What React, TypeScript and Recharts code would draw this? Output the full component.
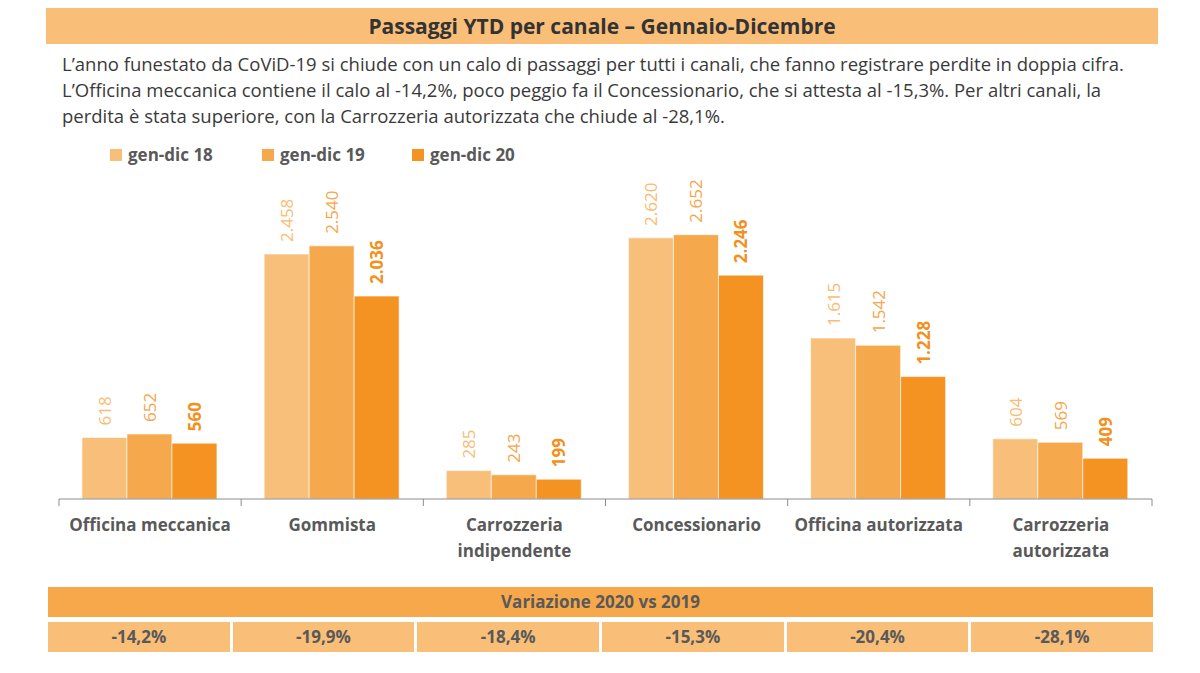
import { FC } from "react"
import { BarChart, Bar, XAxis, YAxis, LabelList } from "recharts"

const categories = [
    "Officina meccanica",
    "Gommista",
    "Carrozzeria indipendente",
    "Concessionario",
    "Officina autorizzata",
    "Carrozzeria autorizzata",
]
const gen18 = [618, 2458, 285, 2620, 1615, 604]
const gen19 = [652, 2540, 243, 2652, 1542, 569]
const gen20 = [560, 2036, 199, 2246, 1228, 409]
const variazioni = ["-14,2%", "-19,9%", "-18,4%", "-15,3%", "-20,4%", "-28,1%"]

const seriesNames = ["gen-dic 18", "gen-dic 19", "gen-dic 20"]
const barColors = ["#F8BF7B", "#F6A84C", "#F49322"]
const labelColors = ["#F9BC74", "#F6A64C", "#F39020"]

const FONT = "'Open Sans', Lato, sans-serif"
const GRAY = "#595959"

const data = categories.map((name, i) => ({
    name,
    g18: gen18[i],
    g19: gen19[i],
    g20: gen20[i],
}))

const fmt = (v: number) => String(v).replace(/\B(?=(\d{3})+(?!\d))/g, ".")

const makeLabel = (color: string, bold: boolean) => (props: any) => {
    const { x, y, width, value } = props
    const cx = x + width / 2
    const cy = y - 12
    return <text x={cx} y={cy} transform={`rotate(-90 ${cx} ${cy})`} textAnchor="start" dominantBaseline="central"
        fill={color} fontSize={17} fontWeight={bold ? 700 : 400} fontFamily={FONT}>{fmt(value)}</text>
}

const CategoryTick = (props: any) => {
    const { x, y, payload, index } = props
    const half = payload.offset || 0
    const label: string = payload.value
    const lines = label.length > 20 ? [label.slice(0, label.indexOf(" ")), label.slice(label.indexOf(" ") + 1)] : [label]
    return <g>
        <line x1={x - half} y1={y - 8} x2={x - half} y2={y - 1} stroke="#8c8c8c" />
        {index === categories.length - 1 && <line x1={x + half} y1={y - 8} x2={x + half} y2={y - 1} stroke="#8c8c8c" />}
        <text x={x} y={y + 24} textAnchor="middle" fill={GRAY} fontSize={17} fontWeight={700} fontFamily={FONT}>
            {lines.map((l, i) => <tspan key={i} x={x} dy={i === 0 ? 0 : 26}>{l}</tspan>)}
        </text>
    </g>
}

const App: FC = () => {
    return (<div style={{position: 'absolute', left: 0, top: 0, width: 1200, height: 673, background: '#fff', fontFamily: FONT}}>
        <div style={{position: 'absolute', left: 46, top: 8, width: 1112, height: 36, background: '#F9BE78',
            textAlign: 'center', lineHeight: '36px', fontSize: 21, fontWeight: 700, color: '#333'}}>
            Passaggi YTD per canale – Gennaio-Dicembre
        </div>
        <div style={{position: 'absolute', left: 62, top: 51, fontSize: 18.5, lineHeight: '26px', color: '#3a3a3a', whiteSpace: 'nowrap'}}>
            L’anno funestato da CoViD-19 si chiude con un calo di passaggi per tutti i canali, che fanno registrare perdite in doppia cifra.<br/>
            L’Officina meccanica contiene il calo al -14,2%, poco peggio fa il Concessionario, che si attesta al -15,3%. Per altri canali, la<br/>
            perdita è stata superiore, con la Carrozzeria autorizzata che chiude al -28,1%.
        </div>
        <div style={{position: 'absolute', left: 110, top: 143, display: 'flex', gap: 0}}>
            {seriesNames.map((s, i) => <div key={s} style={{display: 'flex', alignItems: 'center', width: i === 0 ? 152 : 150}}>
                <span style={{display: 'inline-block', width: 12, height: 12, background: barColors[i], marginRight: 6}} />
                <span style={{fontSize: 17, fontWeight: 700, color: GRAY, lineHeight: '24px'}}>{s}</span>
            </div>)}
        </div>
        <div style={{position: 'absolute', left: 0, top: 0}}>
            <BarChart width={1200} height={580} data={data} margin={{top: 200, right: 48, left: 59, bottom: 21}}
                barCategoryGap="12.6%" barGap={0}>
                <XAxis dataKey="name" height={60} interval={0} tickLine={false} stroke="#8c8c8c"
                    tick={<CategoryTick />} />
                <YAxis hide domain={[0, 3000]} />
                <Bar dataKey="g18" fill={barColors[0]} stroke="#fff" strokeWidth={0.6} isAnimationActive={false}>
                    <LabelList dataKey="g18" content={makeLabel(labelColors[0], false)} />
                </Bar>
                <Bar dataKey="g19" fill={barColors[1]} stroke="#fff" strokeWidth={0.6} isAnimationActive={false}>
                    <LabelList dataKey="g19" content={makeLabel(labelColors[1], false)} />
                </Bar>
                <Bar dataKey="g20" fill={barColors[2]} stroke="#fff" strokeWidth={0.6} isAnimationActive={false}>
                    <LabelList dataKey="g20" content={makeLabel(labelColors[2], true)} />
                </Bar>
            </BarChart>
        </div>
        <div style={{position: 'absolute', left: 48, top: 587, width: 1105, height: 30, background: '#F7A84B',
            textAlign: 'center', lineHeight: '30px', fontSize: 17, fontWeight: 700, color: GRAY}}>
            Variazione 2020 vs 2019
        </div>
        <div style={{position: 'absolute', left: 48, top: 622, width: 1105, height: 30, display: 'flex', gap: 3}}>
            {variazioni.map((v, i) => <div key={i} style={{flex: 1, background: '#F9BE78', textAlign: 'center',
                lineHeight: '30px', fontSize: 17, fontWeight: 700, color: GRAY}}>{v}</div>)}
        </div>
    </div>)
}

export default App
